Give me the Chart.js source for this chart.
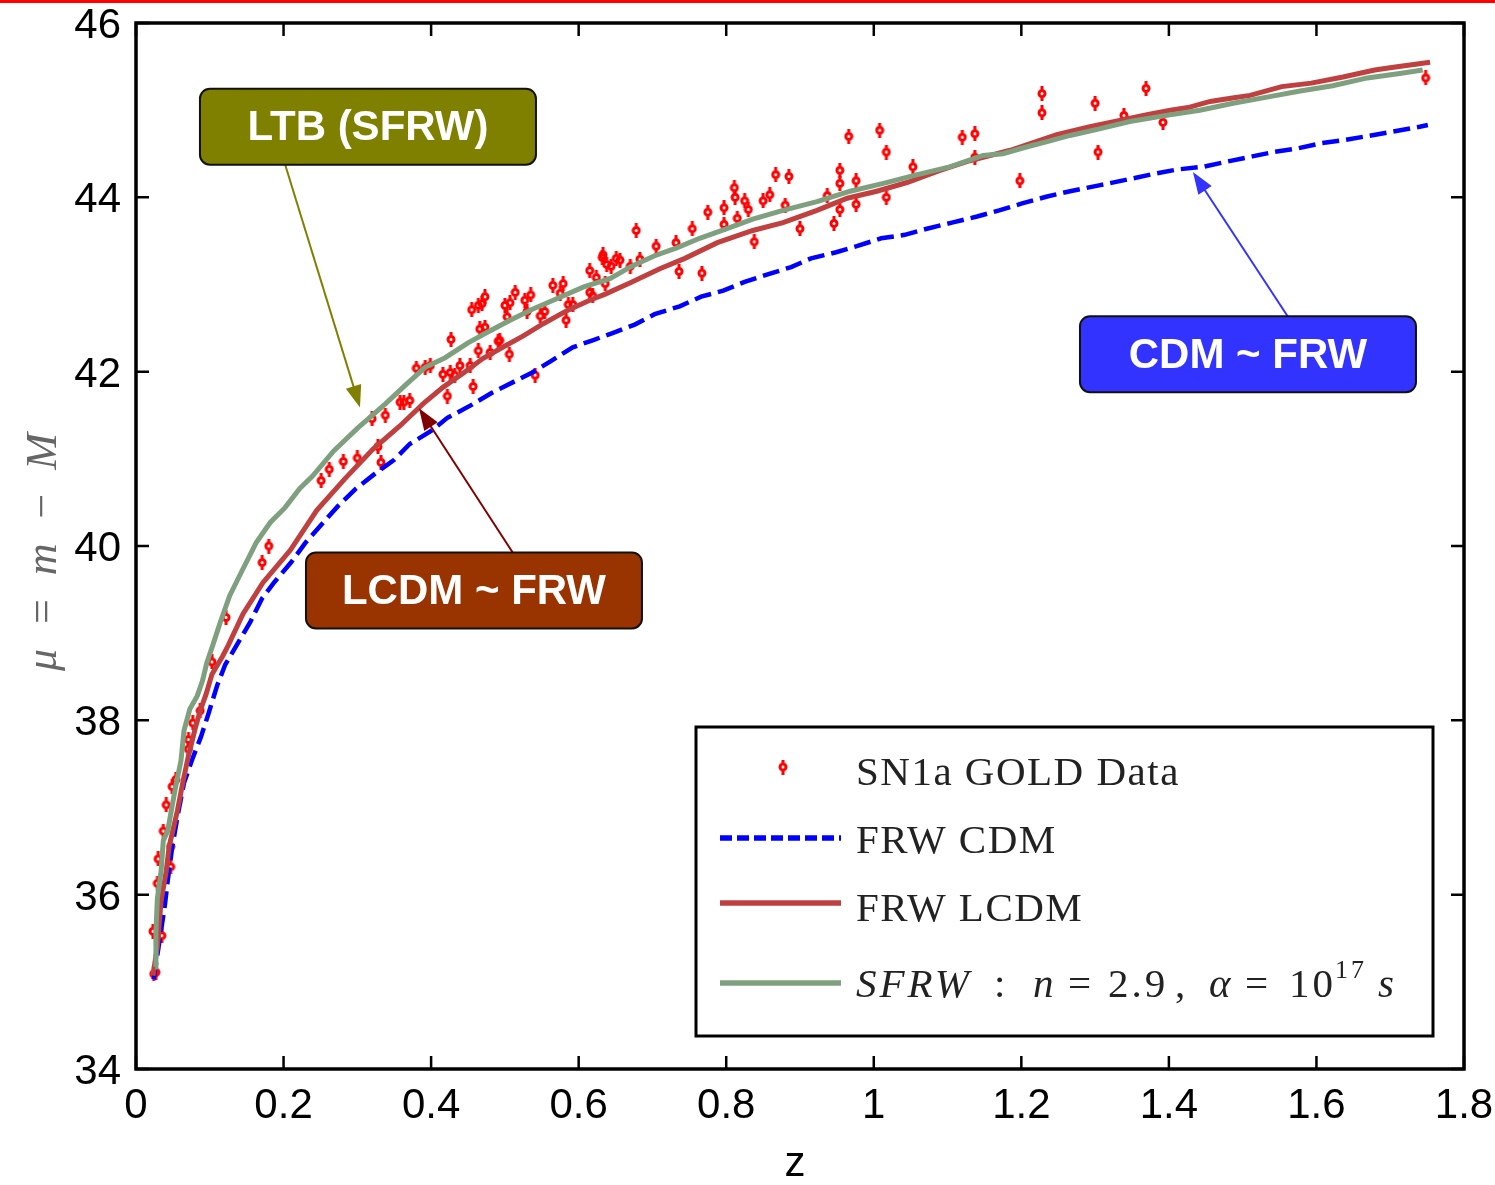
<!DOCTYPE html>
<html>
<head>
<meta charset="utf-8">
<script src="https://cdn.jsdelivr.net/npm/chart.js@4.4.1/dist/chart.umd.min.js"></script>
<style>
  body { margin: 0; background: #fff; }
  #muChart { position: absolute; left: 0; top: 0; }
  #topBar { position: absolute; left: 0; top: 0; width: 1495px; height: 3px; background: #ff0000; }
</style>
</head>
<body>
<canvas id="muChart" width="1495" height="1185"></canvas>
<div id="topBar"></div>
<script>
// SN1a gold sample: redshift and distance modulus
const snZ = [
  0.024, 0.027, 0.023, 0.035, 0.029, 0.030, 0.037, 0.047, 0.047, 0.041,
  0.049, 0.054, 0.071, 0.071, 0.077, 0.087, 0.103, 0.122, 0.171, 0.180,
  0.251, 0.262, 0.281, 0.300, 0.332, 0.328, 0.320, 0.338, 0.363, 0.371,
  0.358, 0.380, 0.392, 0.399, 0.416, 0.426, 0.422, 0.427, 0.439, 0.453,
  0.432, 0.457, 0.455, 0.464, 0.473, 0.469, 0.466, 0.473, 0.464, 0.480,
  0.491, 0.493, 0.500, 0.507, 0.514, 0.503, 0.506, 0.527, 0.535, 0.530,
  0.541, 0.548, 0.554, 0.565, 0.575, 0.579, 0.586, 0.583, 0.592, 0.615,
  0.615, 0.624, 0.619, 0.632, 0.636, 0.638, 0.633, 0.644, 0.651, 0.656,
  0.670, 0.678, 0.683, 0.705, 0.732, 0.736, 0.754, 0.767, 0.775, 0.797,
  0.797, 0.811, 0.812, 0.815, 0.825, 0.830, 0.838, 0.850, 0.859, 0.867,
  0.885, 0.880, 0.900, 0.937, 0.946, 0.954, 0.954, 0.954, 0.966, 0.976,
  0.976, 1.008, 1.017, 1.017, 1.053, 1.120, 1.137, 1.137, 1.198, 1.228,
  1.228, 1.300, 1.304, 1.339, 1.369, 1.392, 1.748
]
const snMu = [
  35.09, 35.11, 35.58, 35.53, 36.13, 36.41, 36.73, 36.55, 36.32, 37.03,
  37.24, 37.32, 37.78, 37.67, 37.97, 38.11, 38.67, 39.18, 39.81, 40.00,
  40.75, 40.88, 40.97, 41.01, 40.96, 41.14, 41.46, 41.50, 41.65, 41.67,
  41.65, 42.04, 42.05, 42.07, 41.97, 41.99, 41.72, 42.37, 42.07, 42.07,
  41.96, 41.83, 42.71, 42.76, 42.86, 42.78, 42.49, 42.51, 42.24, 42.22,
  42.35, 42.36, 42.76, 42.79, 42.91, 42.63, 42.20, 42.82, 42.88, 42.69,
  41.96, 42.64, 42.69, 42.99, 42.90, 43.01, 42.77, 42.59, 42.77, 42.91,
  43.16, 43.08, 42.87, 43.31, 43.01, 43.23, 43.34, 43.21, 43.30, 43.28,
  43.21, 43.62, 43.29, 43.44, 43.48, 43.15, 43.64, 43.13, 43.83, 43.88,
  43.69, 44.11, 44.00, 43.76, 43.96, 43.86, 43.49, 43.96, 44.03, 44.26,
  44.24, 43.91, 43.64, 44.02, 43.70, 44.31, 44.16, 43.86, 44.70, 44.19,
  43.92, 44.77, 44.52, 44.00, 44.35, 44.69, 44.73, 44.46, 44.19, 45.19,
  44.97, 45.08, 44.52, 44.94, 45.25, 44.86, 45.37
]

// FRW CDM model
const cdmZ = [
  0.024, 0.039, 0.043, 0.049, 0.057, 0.065, 0.077, 0.088, 0.098, 0.110,
  0.121, 0.155, 0.171, 0.188, 0.210, 0.230, 0.254, 0.274, 0.297, 0.324,
  0.350, 0.371, 0.400, 0.422, 0.453, 0.483, 0.537, 0.564, 0.592, 0.619,
  0.645, 0.676, 0.703, 0.737, 0.766, 0.796, 0.825, 0.854, 0.888, 0.915,
  0.949, 0.977, 1.010, 1.042, 1.072, 1.106, 1.140, 1.170, 1.201, 1.235,
  1.266, 1.307, 1.347, 1.380, 1.412, 1.446, 1.479, 1.513, 1.542, 1.574,
  1.606, 1.640, 1.674, 1.708, 1.740, 1.751
]
const cdmMu = [
  35.03, 35.87, 36.16, 36.54, 36.93, 37.28, 37.57, 37.81, 38.07, 38.40,
  38.64, 39.13, 39.40, 39.59, 39.81, 40.04, 40.27, 40.46, 40.65, 40.83,
  40.99, 41.17, 41.32, 41.47, 41.61, 41.76, 41.99, 42.13, 42.28, 42.36,
  42.44, 42.54, 42.66, 42.75, 42.86, 42.93, 43.03, 43.11, 43.20, 43.30,
  43.37, 43.44, 43.53, 43.57, 43.64, 43.71, 43.78, 43.85, 43.93, 44.01,
  44.07, 44.14, 44.21, 44.27, 44.32, 44.35, 44.41, 44.47, 44.52, 44.56,
  44.62, 44.66, 44.71, 44.76, 44.81, 44.83
]

// FRW LCDM model
const lcdmZ = [
  0.023, 0.029, 0.034, 0.041, 0.045, 0.049, 0.056, 0.064, 0.071, 0.080,
  0.087, 0.095, 0.103, 0.117, 0.125, 0.145, 0.172, 0.209, 0.245, 0.283,
  0.321, 0.358, 0.389, 0.416, 0.443, 0.470, 0.497, 0.525, 0.552, 0.584,
  0.615, 0.636, 0.670, 0.710, 0.744, 0.788, 0.836, 0.877, 0.923, 0.964,
  1.004, 1.045, 1.087, 1.130, 1.185, 1.248, 1.293, 1.338, 1.372, 1.402,
  1.426, 1.456, 1.486, 1.510, 1.553, 1.593, 1.636, 1.679, 1.702, 1.754
]
const lcdmMu = [
  35.07, 35.41, 35.93, 36.27, 36.56, 36.70, 36.96, 37.31, 37.59, 37.90,
  38.11, 38.30, 38.53, 38.73, 38.86, 39.22, 39.58, 39.95, 40.41, 40.77,
  41.11, 41.38, 41.63, 41.82, 41.98, 42.15, 42.28, 42.41, 42.55, 42.70,
  42.82, 42.89, 43.02, 43.18, 43.30, 43.48, 43.62, 43.71, 43.85, 43.99,
  44.07, 44.17, 44.30, 44.42, 44.54, 44.72, 44.81, 44.89, 44.95, 45.00,
  45.03, 45.10, 45.14, 45.17, 45.27, 45.31, 45.38, 45.46, 45.49, 45.55
]

// SFRW model, n = 2.9, alpha = 1e17 s
const sfrwZ = [
  0.026, 0.027, 0.029, 0.034, 0.037, 0.043, 0.049, 0.054, 0.061, 0.065,
  0.073, 0.083, 0.090, 0.096, 0.104, 0.114, 0.127, 0.141, 0.163, 0.182,
  0.202, 0.222, 0.239, 0.268, 0.300, 0.338, 0.367, 0.392, 0.419, 0.450,
  0.480, 0.507, 0.538, 0.571, 0.606, 0.643, 0.672, 0.703, 0.733, 0.764,
  0.801, 0.836, 0.877, 0.923, 0.968, 1.013, 1.059, 1.103, 1.148, 1.175,
  1.208, 1.235, 1.266, 1.303, 1.347, 1.397, 1.442, 1.487, 1.533, 1.578,
  1.622, 1.669, 1.713, 1.744
]
const sfrwMu = [
  35.17, 35.58, 35.96, 36.27, 36.62, 36.73, 37.02, 37.25, 37.54, 37.88,
  38.13, 38.28, 38.45, 38.66, 38.86, 39.12, 39.43, 39.67, 40.04, 40.27,
  40.44, 40.66, 40.80, 41.09, 41.35, 41.63, 41.86, 42.05, 42.16, 42.33,
  42.47, 42.59, 42.72, 42.84, 42.97, 43.07, 43.21, 43.33, 43.42, 43.53,
  43.64, 43.75, 43.85, 43.95, 44.07, 44.16, 44.26, 44.35, 44.48, 44.50,
  44.58, 44.64, 44.71, 44.78, 44.87, 44.94, 45.00, 45.08, 45.15, 45.22,
  45.28, 45.37, 45.42, 45.46
]

const xTickValues = [0, 0.2, 0.4, 0.6, 0.8, 1, 1.2, 1.4, 1.6, 1.8]
const xTickLabels = ['0', '0.2', '0.4', '0.6', '0.8', '1', '1.2', '1.4', '1.6', '1.8']
const yTickValues = [34, 36, 38, 40, 42, 44, 46]
const yTickLabels = ['34', '36', '38', '40', '42', '44', '46']

// callout boxes: box centre, arrow start and arrow tip in (z, mu)
const callouts = [
  { text: 'LTB (SFRW)', fill: '#808000', arrow: '#808000', box: [0.3144, 44.81], from: [0.2020, 44.38], to: [0.3036, 41.59] },
  { text: 'LCDM ~ FRW', fill: '#993300', arrow: '#800000', box: [0.4581, 39.49], from: [0.5110, 39.92], to: [0.3836, 41.58] },
  { text: 'CDM ~ FRW', fill: '#3333ff', arrow: '#3333ff', box: [1.5072, 42.20], from: [1.5614, 42.63], to: [1.4326, 44.29] }
]

const toXY = (zs, mus) => zs.map((z, i) => ({ x: z, y: mus[i] }))

// little open circle with error ticks, used for the SN points
function makeMarker() {
  const c = document.createElement('canvas')
  c.width = 10
  c.height = 15
  const g = c.getContext('2d')
  g.fillStyle = '#ff0000'
  g.strokeStyle = '#ff0000'
  g.lineWidth = 3
  g.beginPath()
  g.arc(5, 7.5, 3, 0, Math.PI * 2)
  g.stroke()
  g.fillRect(3.5, 0, 3, 3.5)
  g.fillRect(3.5, 11.5, 3, 3.5)
  return c
}
const marker = makeMarker()

const BLUE = '#0000ff'
const RED = '#c04040'
const GREEN = '#7fa07f'

function arrow(ctx, x0, y0, x1, y1, color) {
  const ang = Math.atan2(y1 - y0, x1 - x0)
  const len = 22, half = 8
  ctx.strokeStyle = color
  ctx.fillStyle = color
  ctx.lineWidth = 2
  ctx.beginPath()
  ctx.moveTo(x0, y0)
  ctx.lineTo(x1 - Math.cos(ang) * len * 0.8, y1 - Math.sin(ang) * len * 0.8)
  ctx.stroke()
  ctx.beginPath()
  ctx.moveTo(x1, y1)
  ctx.lineTo(x1 - Math.cos(ang) * len + Math.sin(ang) * half, y1 - Math.sin(ang) * len - Math.cos(ang) * half)
  ctx.lineTo(x1 - Math.cos(ang) * len - Math.sin(ang) * half, y1 - Math.sin(ang) * len + Math.cos(ang) * half)
  ctx.closePath()
  ctx.fill()
}

const decorations = {
  id: 'decorations',
  afterDraw(chart) {
    const { ctx, chartArea: a, scales: { x, y } } = chart
    ctx.save()

    // ticks on all four sides, pointing inwards
    ctx.strokeStyle = '#000'
    ctx.lineWidth = 2.5
    ctx.beginPath()
    xTickValues.forEach(v => {
      const px = x.getPixelForValue(v)
      ctx.moveTo(px, a.bottom); ctx.lineTo(px, a.bottom - 13)
      ctx.moveTo(px, a.top); ctx.lineTo(px, a.top + 13)
    })
    yTickValues.forEach(v => {
      const py = y.getPixelForValue(v)
      ctx.moveTo(a.left, py); ctx.lineTo(a.left + 13, py)
      ctx.moveTo(a.right, py); ctx.lineTo(a.right - 13, py)
    })
    ctx.stroke()
    ctx.lineWidth = 3.5
    ctx.strokeRect(a.left, a.top, a.right - a.left, a.bottom - a.top)

    // tick labels
    ctx.fillStyle = '#000'
    ctx.font = '42px "Liberation Sans", Arial, sans-serif'
    ctx.textAlign = 'center'
    ctx.textBaseline = 'alphabetic'
    xTickValues.forEach((v, i) => ctx.fillText(xTickLabels[i], x.getPixelForValue(v), 1118))
    ctx.textAlign = 'right'
    yTickValues.forEach((v, i) => ctx.fillText(yTickLabels[i], 121, y.getPixelForValue(v) + 15))

    // axis titles
    ctx.textAlign = 'center'
    ctx.fillText('z', 795, 1176)
    ctx.save()
    ctx.translate(56, 552)
    ctx.rotate(-Math.PI / 2)
    ctx.fillStyle = '#666'
    ctx.font = 'italic 44px "Liberation Serif", "DejaVu Serif", serif'
    ctx.fillText('μ  =  m  −  M', 0, 0)
    ctx.restore()

    // legend
    const bx = 696, by = 727, bw = 737, bh = 309
    ctx.fillStyle = '#fff'
    ctx.fillRect(bx, by, bw, bh)
    ctx.strokeStyle = '#000'
    ctx.lineWidth = 3
    ctx.strokeRect(bx, by, bw, bh)
    ctx.drawImage(marker, 783 - marker.width / 2, 767 - marker.height / 2)
    const legendLine = (yy, color, dash) => {
      ctx.strokeStyle = color
      ctx.lineWidth = 5.5
      ctx.setLineDash(dash)
      ctx.beginPath()
      ctx.moveTo(720, yy)
      ctx.lineTo(841, yy)
      ctx.stroke()
      ctx.setLineDash([])
    }
    legendLine(838, BLUE, [12, 5])
    legendLine(903, RED, [])
    legendLine(983, GREEN, [])

    ctx.fillStyle = '#222'
    ctx.textAlign = 'left'
    const roman = '41px "Liberation Serif", "DejaVu Serif", serif'
    const italic = 'italic 41px "Liberation Serif", "DejaVu Serif", serif'
    ctx.font = roman
    ctx.letterSpacing = '1.5px'
    ctx.fillText('SN1a GOLD Data', 856, 785)
    ctx.fillText('FRW CDM', 856, 853)
    ctx.fillText('FRW LCDM', 856, 921)
    const pieces = [
      ['SFRW', italic, 856, 997],
      [':', roman, 994, 997],
      ['n', italic, 1033, 997],
      ['=', roman, 1068, 997],
      ['2.9', roman, 1108, 997],
      [',', roman, 1175, 997],
      ['α', italic, 1209, 997],
      ['=', roman, 1245, 997],
      ['10', roman, 1289, 997],
      ['17', '26px "Liberation Serif", serif', 1335, 978],
      ['s', italic, 1378, 997]
    ]
    ctx.letterSpacing = '3px'
    pieces.forEach(([t, f, px, py]) => { ctx.font = f; ctx.fillText(t, px, py) })
    ctx.letterSpacing = '0px'

    // callouts
    callouts.forEach(c => {
      arrow(ctx, x.getPixelForValue(c.from[0]), y.getPixelForValue(c.from[1]),
        x.getPixelForValue(c.to[0]), y.getPixelForValue(c.to[1]), c.arrow)
      const cx = x.getPixelForValue(c.box[0])
      const cy = y.getPixelForValue(c.box[1])
      const w = 336, h = 76
      ctx.fillStyle = c.fill
      ctx.strokeStyle = '#111'
      ctx.lineWidth = 2
      ctx.beginPath()
      ctx.roundRect(cx - w / 2, cy - h / 2, w, h, 10)
      ctx.fill()
      ctx.stroke()
      ctx.fillStyle = '#fff'
      ctx.font = 'bold 42px "Liberation Sans", Arial, sans-serif'
      ctx.textAlign = 'center'
      ctx.textBaseline = 'middle'
      ctx.fillText(c.text, cx, cy + 2)
      ctx.textBaseline = 'alphabetic'
    })

    ctx.restore()
  }
}

new Chart(document.getElementById('muChart'), {
  type: 'scatter',
  data: {
    datasets: [
      {
        label: 'SFRW',
        data: toXY(sfrwZ, sfrwMu),
        showLine: true,
        borderColor: GREEN,
        borderWidth: 5,
        pointRadius: 0,
        order: 0
      },
      {
        label: 'FRW LCDM',
        data: toXY(lcdmZ, lcdmMu),
        showLine: true,
        borderColor: RED,
        borderWidth: 5,
        pointRadius: 0,
        order: 1
      },
      {
        label: 'FRW CDM',
        data: toXY(cdmZ, cdmMu),
        showLine: true,
        borderColor: BLUE,
        borderWidth: 4.5,
        borderDash: [17, 7],
        pointRadius: 0,
        order: 2
      },
      {
        label: 'SN1a GOLD Data',
        data: toXY(snZ, snMu),
        showLine: false,
        pointStyle: marker,
        order: 3
      }
    ]
  },
  options: {
    responsive: false,
    animation: false,
    devicePixelRatio: 1,
    layout: { padding: { left: 136, right: 31, top: 23, bottom: 116 } },
    plugins: { legend: { display: false }, tooltip: { enabled: false } },
    scales: {
      x: { type: 'linear', min: 0, max: 1.8, display: false },
      y: { type: 'linear', min: 34, max: 46, display: false }
    }
  },
  plugins: [decorations]
})
</script>
</body>
</html>
